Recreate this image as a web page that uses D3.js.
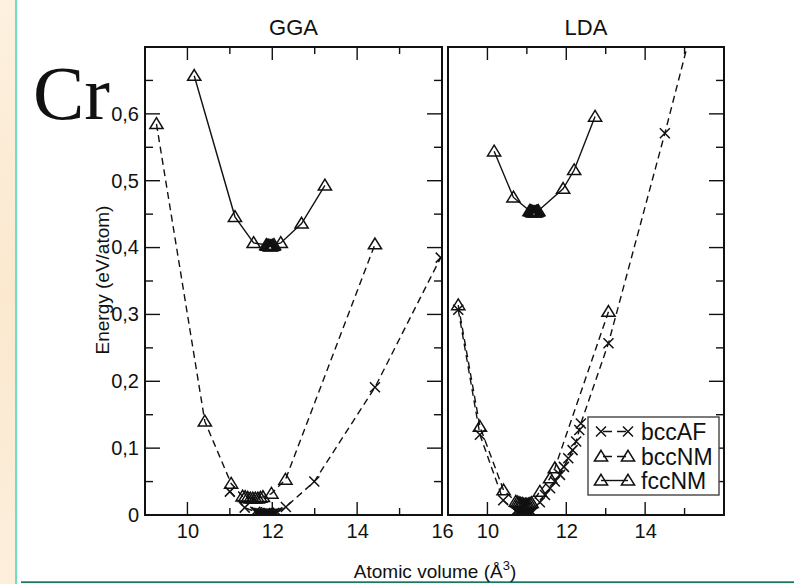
<!DOCTYPE html>
<html>
<head>
<meta charset="utf-8">
<script src="https://cdn.jsdelivr.net/npm/d3@7"></script>
<style>
  html, body { margin: 0; padding: 0; background: #ffffff; }
  svg { display: block; }
  text { font-family: "Liberation Sans", Arial, Helvetica, sans-serif; fill: #111; }
</style>
</head>
<body>
<svg id="chart" width="794" height="584"></svg>
<script>
// ---- data: atomic volume (Å^3) vs energy (eV/atom) for Cr ----
const panels = ["GGA", "LDA"];
const seriesNames = ["bccAF", "bccNM", "fccNM"];

const ggaBccAFVol = [11.0, 11.35, 11.6, 11.64, 11.68, 11.72, 11.76, 11.8, 11.84, 11.88, 11.92, 11.96, 12.0, 12.04, 12.08, 12.12, 12.32, 12.99, 14.42, 15.97];
const ggaBccAFEn  = [0.035, 0.011, 0.005, 0.004, 0.003, 0.003, 0.002, 0.002, 0.002, 0.002, 0.002, 0.002, 0.002, 0.003, 0.003, 0.004, 0.012, 0.050, 0.191, 0.385];

const ggaBccNMVol = [9.27, 10.41, 11.03, 11.3, 11.36, 11.42, 11.48, 11.54, 11.6, 11.66, 11.72, 11.78, 11.98, 12.31, 14.42];
const ggaBccNMEn  = [0.585, 0.140, 0.047, 0.028, 0.027, 0.026, 0.025, 0.025, 0.025, 0.025, 0.026, 0.027, 0.032, 0.053, 0.405];

const ggaFccNMVol = [10.16, 11.12, 11.56, 11.86, 11.88, 11.9, 11.92, 11.94, 11.96, 11.98, 12.0, 12.02, 12.04, 12.2, 12.69, 13.24];
const ggaFccNMEn  = [0.657, 0.446, 0.407, 0.404, 0.403, 0.403, 0.403, 0.402, 0.402, 0.402, 0.403, 0.403, 0.404, 0.407, 0.436, 0.493];

const ldaBccAFVol = [9.26, 9.81, 10.4, 10.72, 10.75, 10.78, 10.81, 10.84, 10.87, 10.9, 10.93, 10.96, 10.99, 11.02, 11.05, 11.08, 11.11, 11.14, 11.33, 11.46, 11.59, 11.71, 11.84, 11.94, 12.05, 12.16, 12.25, 12.33, 12.37, 13.07, 14.5, 15.5];
const ldaBccAFEn  = [0.307, 0.120, 0.022, 0.006, 0.005, 0.004, 0.003, 0.002, 0.002, 0.001, 0.001, 0.001, 0.001, 0.001, 0.002, 0.002, 0.003, 0.004, 0.019, 0.030, 0.040, 0.050, 0.060, 0.072, 0.085, 0.097, 0.110, 0.127, 0.137, 0.257, 0.571, 0.80];

const ldaBccNMVol = [9.26, 9.81, 10.41, 10.72, 10.76, 10.8, 10.84, 10.88, 10.92, 10.96, 11.0, 11.04, 11.08, 11.12, 11.33, 11.59, 11.71, 13.07];
const ldaBccNMEn  = [0.314, 0.132, 0.037, 0.020, 0.019, 0.018, 0.017, 0.017, 0.016, 0.016, 0.016, 0.016, 0.017, 0.018, 0.035, 0.055, 0.070, 0.304];

const ldaFccNMVol = [10.17, 10.66, 11.07, 11.09, 11.11, 11.13, 11.15, 11.17, 11.19, 11.21, 11.23, 11.25, 11.27, 11.29, 11.92, 12.2, 12.73];
const ldaFccNMEn  = [0.544, 0.475, 0.455, 0.455, 0.454, 0.454, 0.453, 0.453, 0.453, 0.453, 0.453, 0.454, 0.454, 0.455, 0.488, 0.516, 0.596];

const yTickValues = [0, 0.1, 0.2, 0.3, 0.4, 0.5, 0.6];
const yTickLabels = ["0", "0,1", "0,2", "0,3", "0,4", "0,5", "0,6"];
const ggaXTickValues = [10, 12, 14, 16];
const ggaXTickLabels = ["10", "12", "14", "16"];
const ldaXTickValues = [10, 12, 14];
const ldaXTickLabels = ["10", "12", "14"];

// ---- layout ----
const svg = d3.select("#chart");
const defs = svg.append("defs");
const plotTop = 47, plotBottom = 515;
const frames = [
  { name: panels[0], x0: 145, x1: 442, ticksLeft: true, xt: ggaXTickValues, xl: ggaXTickLabels,
    series: [[ggaBccAFVol, ggaBccAFEn], [ggaBccNMVol, ggaBccNMEn], [ggaFccNMVol, ggaFccNMEn]] },
  { name: panels[1], x0: 448, x1: 724, ticksLeft: false, xt: ldaXTickValues, xl: ldaXTickLabels,
    series: [[ldaBccAFVol, ldaBccAFEn], [ldaBccNMVol, ldaBccNMEn], [ldaFccNMVol, ldaFccNMEn]] }
];
const styles = [
  { marker: "x", dash: "7,4.5" },
  { marker: "tri", dash: "7,4.5" },
  { marker: "tri", dash: null }
];

const y = d3.scaleLinear().domain([0, 0.7]).range([plotBottom, plotTop]);

// page decoration: tinted strip on the left, rule along the bottom
const grad = defs.append("linearGradient").attr("id", "strip")
  .attr("x1", 0).attr("y1", 0).attr("x2", 0).attr("y2", 1);
grad.append("stop").attr("offset", "0%").attr("stop-color", "#fdf1df");
grad.append("stop").attr("offset", "50%").attr("stop-color", "#fbe8cf");
grad.append("stop").attr("offset", "100%").attr("stop-color", "#fcefdc");
svg.append("rect").attr("x", 0).attr("y", 0).attr("width", 15).attr("height", 584).attr("fill", "url(#strip)");
svg.append("rect").attr("x", 15).attr("y", 0).attr("width", 2.2).attr("height", 584).attr("fill", "#74dcc3");
svg.append("rect").attr("x", 21).attr("y", 581.3).attr("width", 773).attr("height", 1.8).attr("fill", "#1e7563");

const triPath = "M0,-6.2L6.6,4.6L-6.6,4.6Z";
const xPath = "M-5,-5L5,5M-5,5L5,-5";

function drawMarker(g, kind, cx, cy) {
  g.append("path")
    .attr("d", kind === "tri" ? triPath : xPath)
    .attr("transform", `translate(${cx},${cy})`)
    .attr("fill", "none").attr("stroke", "#111").attr("stroke-width", 1.5);
}

frames.forEach((f, i) => {
  const x = d3.scaleLinear().domain([9, 16]).range([f.x0, f.x1]);
  const g = svg.append("g");
  const clipId = "clip" + i;
  defs.append("clipPath").attr("id", clipId)
    .append("rect").attr("x", f.x0).attr("y", plotTop).attr("width", f.x1 - f.x0).attr("height", plotBottom - plotTop);

  // curves and markers
  const plot = g.append("g").attr("clip-path", `url(#${clipId})`);
  f.series.forEach(([vol, en], s) => {
    const pts = vol.map((v, k) => [v, en[k]]);
    plot.append("path")
      .attr("d", d3.line().x(d => x(d[0])).y(d => y(d[1]))(pts))
      .attr("fill", "none").attr("stroke", "#111").attr("stroke-width", 1.4)
      .attr("stroke-dasharray", styles[s].dash);
    pts.forEach(d => drawMarker(plot, styles[s].marker, x(d[0]), y(d[1])));
  });

  // tick marks (inward) on all sides
  const ticks = g.append("g").attr("stroke", "#111").attr("stroke-width", 1.4);
  d3.range(10, 16, 1).forEach(v => {
    const len = v % 2 === 0 ? 13 : 7;
    ticks.append("line").attr("x1", x(v)).attr("x2", x(v)).attr("y1", plotBottom).attr("y2", plotBottom - len);
    ticks.append("line").attr("x1", x(v)).attr("x2", x(v)).attr("y1", plotTop).attr("y2", plotTop + len);
  });
  d3.range(1, 14).forEach(k => {
    const v = k * 0.05;
    const len = k % 2 === 0 ? 15 : 8;
    ticks.append("line").attr("x1", f.x1).attr("x2", f.x1 - len).attr("y1", y(v)).attr("y2", y(v));
    if (f.ticksLeft)
      ticks.append("line").attr("x1", f.x0).attr("x2", f.x0 + len).attr("y1", y(v)).attr("y2", y(v));
  });

  // bottom axis labels
  const xAxis = d3.axisBottom(x).tickValues(f.xt).tickSize(0).tickPadding(9)
    .tickFormat((d, k) => f.xl[k]);
  const xa = g.append("g").attr("transform", `translate(0,${plotBottom})`).call(xAxis);
  xa.select(".domain").remove();
  xa.attr("font-family", null).attr("font-size", null);
  xa.selectAll("text").attr("font-size", 20).attr("fill", "#111").attr("dy", "0.72em");

  if (f.ticksLeft) {
    const yAxis = d3.axisLeft(y).tickValues(yTickValues).tickSize(0).tickPadding(6)
      .tickFormat((d, k) => yTickLabels[k]);
    const ya = g.append("g").attr("transform", `translate(${f.x0},0)`).call(yAxis);
    ya.select(".domain").remove();
    ya.attr("font-family", null).attr("font-size", null);
    ya.selectAll("text").attr("font-size", 20).attr("fill", "#111");
  }

  // frame
  g.append("rect").attr("x", f.x0).attr("y", plotTop).attr("width", f.x1 - f.x0).attr("height", plotBottom - plotTop)
    .attr("fill", "none").attr("stroke", "#111").attr("stroke-width", 2);

  // panel title
  svg.append("text").attr("x", (f.x0 + f.x1) / 2).attr("y", 35).attr("text-anchor", "middle")
    .attr("font-size", 22).text(f.name);
});

// axis titles
svg.append("text").attr("x", 435).attr("y", 578).attr("text-anchor", "middle").attr("font-size", 19)
  .html('Atomic volume (Å<tspan dy="-8" font-size="13">3</tspan><tspan dy="8">)</tspan>');
svg.append("text").attr("transform", "translate(109,280) rotate(-90)").attr("text-anchor", "middle")
  .attr("font-size", 19).text("Energy (eV/atom)");

// element symbol
svg.append("text").attr("x", 33).attr("y", 119).attr("font-size", 77)
  .style("font-family", '"Liberation Serif", "Times New Roman", serif').text("Cr");

// legend
const lg = svg.append("g");
lg.append("rect").attr("x", 588).attr("y", 417).attr("width", 131).attr("height", 78)
  .attr("fill", "#fff").attr("stroke", "#444").attr("stroke-width", 1.4);
const rowY = [431.5, 456.5, 480.5];
seriesNames.forEach((name, s) => {
  const yy = rowY[s];
  lg.append("line").attr("x1", 601).attr("x2", 628).attr("y1", yy).attr("y2", yy)
    .attr("stroke", "#111").attr("stroke-width", 1.4)
    .attr("stroke-dasharray", styles[s].dash ? "9,5" : null).attr("stroke-dashoffset", styles[s].dash ? -2 : null);
  drawMarker(lg, styles[s].marker, 601, yy);
  drawMarker(lg, styles[s].marker, 628, yy);
  lg.append("text").attr("x", 641).attr("y", yy).attr("dy", "0.36em").attr("font-size", 23).text(name);
});
</script>
</body>
</html>
